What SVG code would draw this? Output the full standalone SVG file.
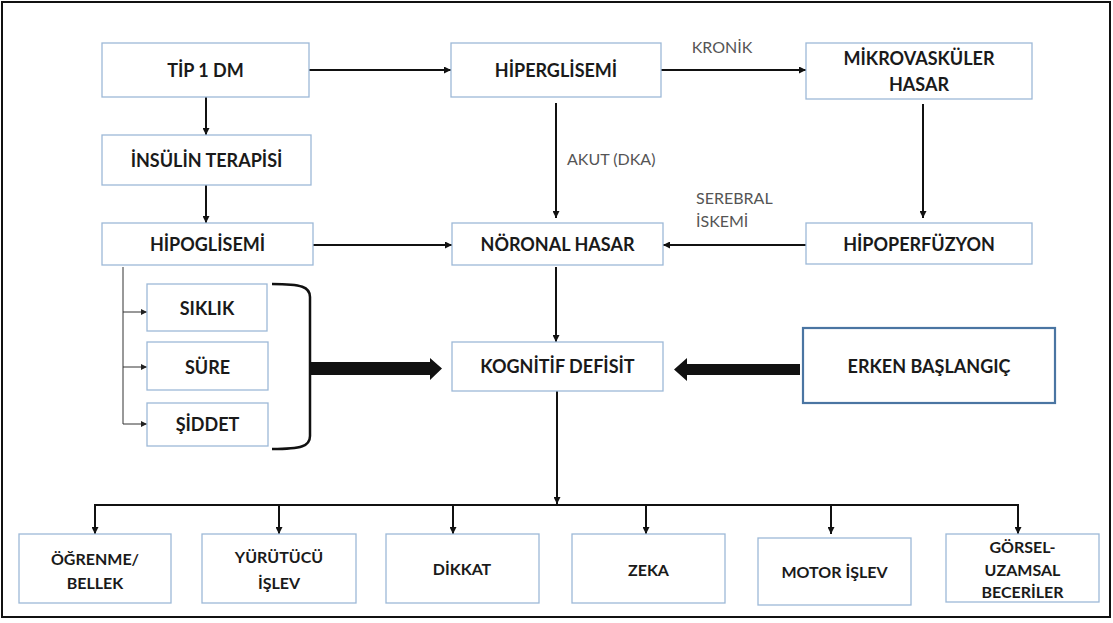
<svg xmlns="http://www.w3.org/2000/svg" width="1113" height="623" viewBox="0 0 1113 623">
<defs>
<marker id="ah" viewBox="0 0 10 10" refX="10" refY="5" markerWidth="7" markerHeight="7" markerUnits="userSpaceOnUse" orient="auto"><path d="M0,0 L10,5 L0,10 z" fill="#111"/></marker>
<marker id="ahs" viewBox="0 0 10 10" refX="10" refY="5" markerWidth="6" markerHeight="6" markerUnits="userSpaceOnUse" orient="auto"><path d="M0,0 L10,5 L0,10 z" fill="#222"/></marker>
<style>
.box{fill:#fff;stroke:#9db9d8;stroke-width:1.3}
.boxb{fill:#fff;stroke:#4a75a2;stroke-width:2.2}
.t{font-family:Lato,"Open Sans","Liberation Sans",sans-serif;font-weight:bold;font-size:18px;fill:#1a1a1a;text-anchor:middle}
.ts{font-family:Lato,"Open Sans","Liberation Sans",sans-serif;font-weight:bold;font-size:16px;fill:#1a1a1a;text-anchor:middle}
.lb{font-family:Lato,"Open Sans","Liberation Sans",sans-serif;font-size:16px;fill:#555}
.c{stroke:#111;stroke-width:2;fill:none}
.cs{stroke:#333;stroke-width:1;fill:none}
</style>
</defs>
<rect x="2" y="2" width="1108" height="615" fill="#fff" stroke="#111" stroke-width="2"/>
<g id="connectors">
<line class="c" x1="206" y1="97" x2="206" y2="135" marker-end="url(#ah)"/>
<line class="c" x1="206" y1="185" x2="206" y2="223" marker-end="url(#ah)"/>
<line class="c" x1="309" y1="70" x2="451" y2="70" marker-end="url(#ah)"/>
<line class="c" x1="661" y1="70" x2="806" y2="70" marker-end="url(#ah)"/>
<line class="c" x1="556" y1="103" x2="556" y2="218" marker-end="url(#ah)"/>
<line class="c" x1="923" y1="104" x2="923" y2="218" marker-end="url(#ah)"/>
<line class="c" x1="313" y1="245" x2="452" y2="245" marker-end="url(#ah)"/>
<line class="c" x1="806" y1="245" x2="663" y2="245" marker-end="url(#ah)"/>
<line class="c" x1="556" y1="267" x2="556" y2="342" marker-end="url(#ah)"/>
<line class="c" x1="557" y1="391" x2="557" y2="504" marker-end="url(#ah)"/>
<line class="c" x1="94" y1="505" x2="1019" y2="505"/>
<line class="c" x1="95" y1="504" x2="95" y2="534" marker-end="url(#ah)"/>
<line class="c" x1="279" y1="504" x2="279" y2="534" marker-end="url(#ah)"/>
<line class="c" x1="453" y1="504" x2="453" y2="534" marker-end="url(#ah)"/>
<line class="c" x1="646" y1="504" x2="646" y2="534" marker-end="url(#ah)"/>
<line class="c" x1="831" y1="504" x2="831" y2="534" marker-end="url(#ah)"/>
<line class="c" x1="1018" y1="504" x2="1018" y2="534" marker-end="url(#ah)"/>
<line class="cs" x1="123" y1="267" x2="123" y2="424"/>
<line class="cs" x1="123" y1="312" x2="147" y2="312" marker-end="url(#ahs)"/>
<line class="cs" x1="123" y1="367" x2="147" y2="367" marker-end="url(#ahs)"/>
<line class="cs" x1="123" y1="424" x2="147" y2="424" marker-end="url(#ahs)"/>
<path d="M272,284 C302,284 310,287 310,297 L310,436 C310,446 302,449 272,449" stroke="#111" stroke-width="2.5" fill="none"/>
<path d="M310,362 L430,362 L430,358 L442,368.5 L430,380 L430,375 L310,375 z" fill="#111"/>
<path d="M800,364 L687,364 L687,358 L674,369.5 L687,381 L687,375 L800,375 z" fill="#111"/>
<text class="lb" x="722" y="53" text-anchor="middle">KRONİK</text>
<text class="lb" x="567" y="165">AKUT (DKA)</text>
<text class="lb" x="696" y="204">SEREBRAL</text>
<text class="lb" x="696" y="227">İSKEMİ</text>
</g>
<g id="tip1dm"><rect class="box" x="102" y="43" width="207" height="54"/><text class="t" x="205.5" y="76.5">TİP 1 DM</text></g>
<g id="insulin"><rect class="box" x="102" y="135" width="209" height="50"/><text class="t" x="206.5" y="166.5">İNSÜLİN TERAPİSİ</text></g>
<g id="hipoglisemi"><rect class="box" x="102" y="223" width="211" height="42"/><text class="t" x="207.5" y="250.5">HİPOGLİSEMİ</text></g>
<g id="hiperglisemi"><rect class="box" x="451" y="43" width="210" height="54"/><text class="t" x="556" y="76.5">HİPERGLİSEMİ</text></g>
<g id="mikrovaskuler"><rect class="box" x="806" y="43" width="226" height="56"/><text class="t" x="919" y="64.5">MİKROVASKÜLER</text><text class="t" x="919" y="90.5">HASAR</text></g>
<g id="hipoperfuzyon"><rect class="box" x="806" y="223" width="226" height="41"/><text class="t" x="919" y="250.5">HİPOPERFÜZYON</text></g>
<g id="noronal"><rect class="box" x="452" y="223" width="211" height="42"/><text class="t" x="557.5" y="250.5">NÖRONAL HASAR</text></g>
<g id="kognitif"><rect class="box" x="452" y="342" width="211" height="49"/><text class="t" x="557.5" y="373">KOGNİTİF DEFİSİT</text></g>
<g id="erken"><rect class="boxb" x="803" y="328" width="252" height="75"/><text class="t" x="929" y="372.5">ERKEN BAŞLANGIÇ</text></g>
<g id="siklik"><rect class="box" x="147" y="284" width="120" height="47"/><text class="t" x="207" y="314.5">SIKLIK</text></g>
<g id="sure"><rect class="box" x="147" y="342" width="121" height="48"/><text class="t" x="207.5" y="373.5">SÜRE</text></g>
<g id="siddet"><rect class="box" x="147" y="403" width="121" height="43"/><text class="t" x="207.5" y="430.5">ŞİDDET</text></g>
<g id="ogrenme"><rect class="box" x="19" y="534" width="152" height="69"/><text class="ts" x="95" y="565">ÖĞRENME/</text><text class="ts" x="95" y="589">BELLEK</text></g>
<g id="yurutucu"><rect class="box" x="202" y="534" width="154" height="69"/><text class="ts" x="279" y="563">YÜRÜTÜCÜ</text><text class="ts" x="279" y="589">İŞLEV</text></g>
<g id="dikkat"><rect class="box" x="386" y="534" width="153" height="69"/><text class="ts" x="462" y="575">DİKKAT</text></g>
<g id="zeka"><rect class="box" x="572" y="534" width="153" height="69"/><text class="ts" x="648.5" y="576">ZEKA</text></g>
<g id="motor"><rect class="box" x="758" y="538" width="153" height="67"/><text class="ts" x="834.5" y="578">MOTOR İŞLEV</text></g>
<g id="gorsel"><rect class="box" x="946" y="534" width="153" height="68"/><text class="ts" x="1022.5" y="553">GÖRSEL-</text><text class="ts" x="1022.5" y="576">UZAMSAL</text><text class="ts" x="1022.5" y="598">BECERİLER</text></g>
</svg>
